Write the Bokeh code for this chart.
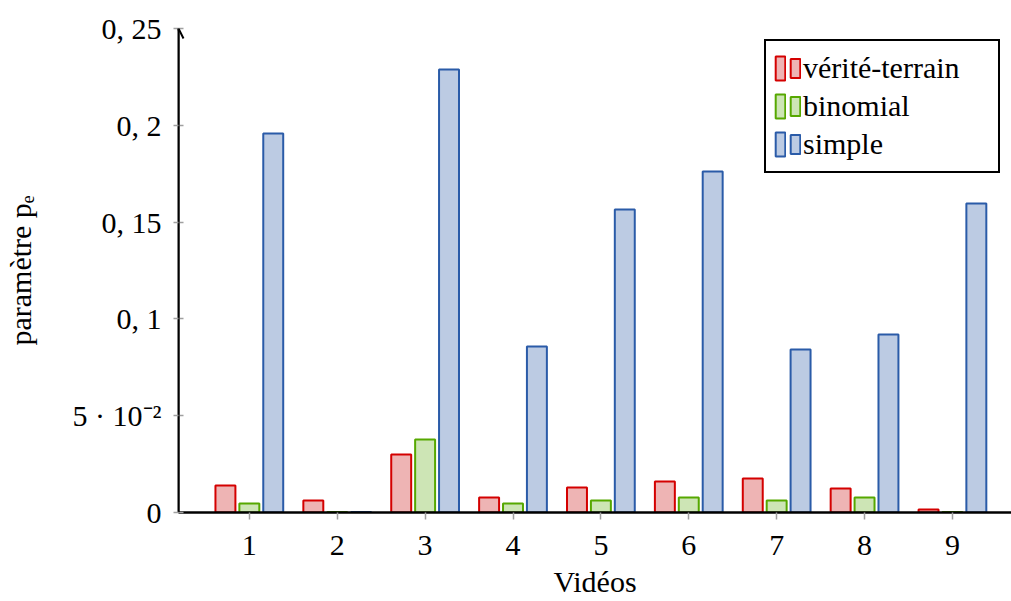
from bokeh.plotting import figure
from bokeh.models import (ColumnDataSource, FixedTicker, Legend, LegendItem,
                          Arrow, OpenHead, Range1d)
from bokeh.transform import dodge
from bokeh.embed import file_html
from bokeh.resources import INLINE

videos = [1, 2, 3, 4, 5, 6, 7, 8, 9]
verite_terrain = [0.0139, 0.0062, 0.0300, 0.0077, 0.0129, 0.0160, 0.0176, 0.0124, 0.0015]
binomial = [0.0046, 0.0003, 0.0377, 0.0046, 0.0062, 0.0077, 0.0062, 0.0077, 0.0003]
simple = [0.1958, 0.0003, 0.2288, 0.0857, 0.1565, 0.1761, 0.0842, 0.0919, 0.1596]

series_names = ["vérité-terrain", "binomial", "simple"]
y_ticks = [0, 0.05, 0.1, 0.15, 0.2, 0.25]
y_tick_labels = ["0", "5 · 10⁻²", "0, 1", "0, 15", "0, 2", "0, 25"]
x_ticks = videos

FONT = "Liberation Serif"
FS = "30px"

src = ColumnDataSource(dict(x=videos, vt=verite_terrain, bi=binomial, si=simple))

X0 = 0.194
p = figure(width=1011, height=601, output_backend="svg", toolbar_location=None,
           x_range=Range1d(X0, 9.672), y_range=Range1d(0, 0.25),
           min_border_left=176, min_border_right=0, min_border_top=28,
           min_border_bottom=89)
p.outline_line_color = None
p.grid.visible = False
p.background_fill_color = "white"

W = 0.227
OFF = 0.272
r1 = p.vbar(x=dodge("x", -OFF), top="vt", width=W, source=src,
            fill_color="#eeb4b4", line_color="#d40000", line_width=2)
r2 = p.vbar(x="x", top="bi", width=W, source=src,
            fill_color="#cde5b5", line_color="#56a800", line_width=2)
r3 = p.vbar(x=dodge("x", OFF), top="si", width=W, source=src,
            fill_color="#bccbe3", line_color="#2a5ba8", line_width=2)

# x axis
xa = p.xaxis[0]
xa.ticker = FixedTicker(ticks=x_ticks)
xa.minor_tick_line_color = None
xa.major_tick_in = 0
xa.major_tick_out = 7
xa.major_tick_line_color = "#a0a0a0"
xa.major_tick_line_width = 1.5
xa.axis_line_color = "black"
xa.axis_line_width = 2.5
xa.major_label_text_font = FONT
xa.major_label_text_font_size = FS
xa.major_label_text_color = "black"
xa.major_label_text_line_height = 0.6
xa.major_label_standoff = 16
xa.axis_label = "Vidéos"
xa.axis_label_text_font = FONT
xa.axis_label_text_font_size = FS
xa.axis_label_text_font_style = "normal"
xa.axis_label_text_color = "black"
xa.axis_label_text_line_height = 0.6
xa.axis_label_standoff = 7

# y axis
ya = p.yaxis[0]
ya.ticker = FixedTicker(ticks=y_ticks)
ya.major_label_overrides = {t: l for t, l in zip(y_ticks, y_tick_labels)}
ya.minor_tick_line_color = None
ya.major_tick_in = 5
ya.major_tick_out = 5
ya.major_tick_line_color = "#a0a0a0"
ya.major_tick_line_width = 1.5
ya.axis_line_color = "black"
ya.axis_line_width = 2
ya.major_label_text_font = FONT
ya.major_label_text_font_size = FS
ya.major_label_text_color = "black"
ya.major_label_standoff = 12
ya.axis_label = "paramètre pₑ"
ya.axis_label_text_font = FONT
ya.axis_label_text_font_size = FS
ya.axis_label_text_font_style = "normal"
ya.axis_label_text_color = "black"
ya.axis_label_standoff = 33

# arrow on y axis
p.add_layout(Arrow(x_start=X0, y_start=0, x_end=X0, y_end=0.25,
                   line_color="black", line_width=2,
                   end=OpenHead(size=10, line_color="black", line_width=2)))

common = dict(label_text_font=FONT, label_text_font_size=FS,
              label_text_font_style="normal", label_text_color="black",
              glyph_width=12, label_height=38, spacing=0)

# main legend: box, first icon bar and labels
legend = Legend(items=[LegendItem(label=series_names[0], renderers=[r1]),
                       LegendItem(label=series_names[1], renderers=[r2]),
                       LegendItem(label=series_names[2], renderers=[r3])],
                location="top_right", margin=11, padding=8,
                border_line_color="black", border_line_width=2, border_line_alpha=1,
                background_fill_color="white", background_fill_alpha=1,
                glyph_height=30, label_standoff=17, label_width=187, **common)
p.add_layout(legend)

# second (shorter) icon bar of each legend entry
legend2 = Legend(items=[LegendItem(label=" ", renderers=[r1]),
                        LegendItem(label=" ", renderers=[r2]),
                        LegendItem(label=" ", renderers=[r3])],
                 location="top_right", margin=21, padding=8,
                 border_line_color=None, background_fill_alpha=0,
                 glyph_height=24, label_standoff=0, label_width=189, **common)
p.add_layout(legend2)

open("out.html", "w").write(file_html(p, INLINE))
